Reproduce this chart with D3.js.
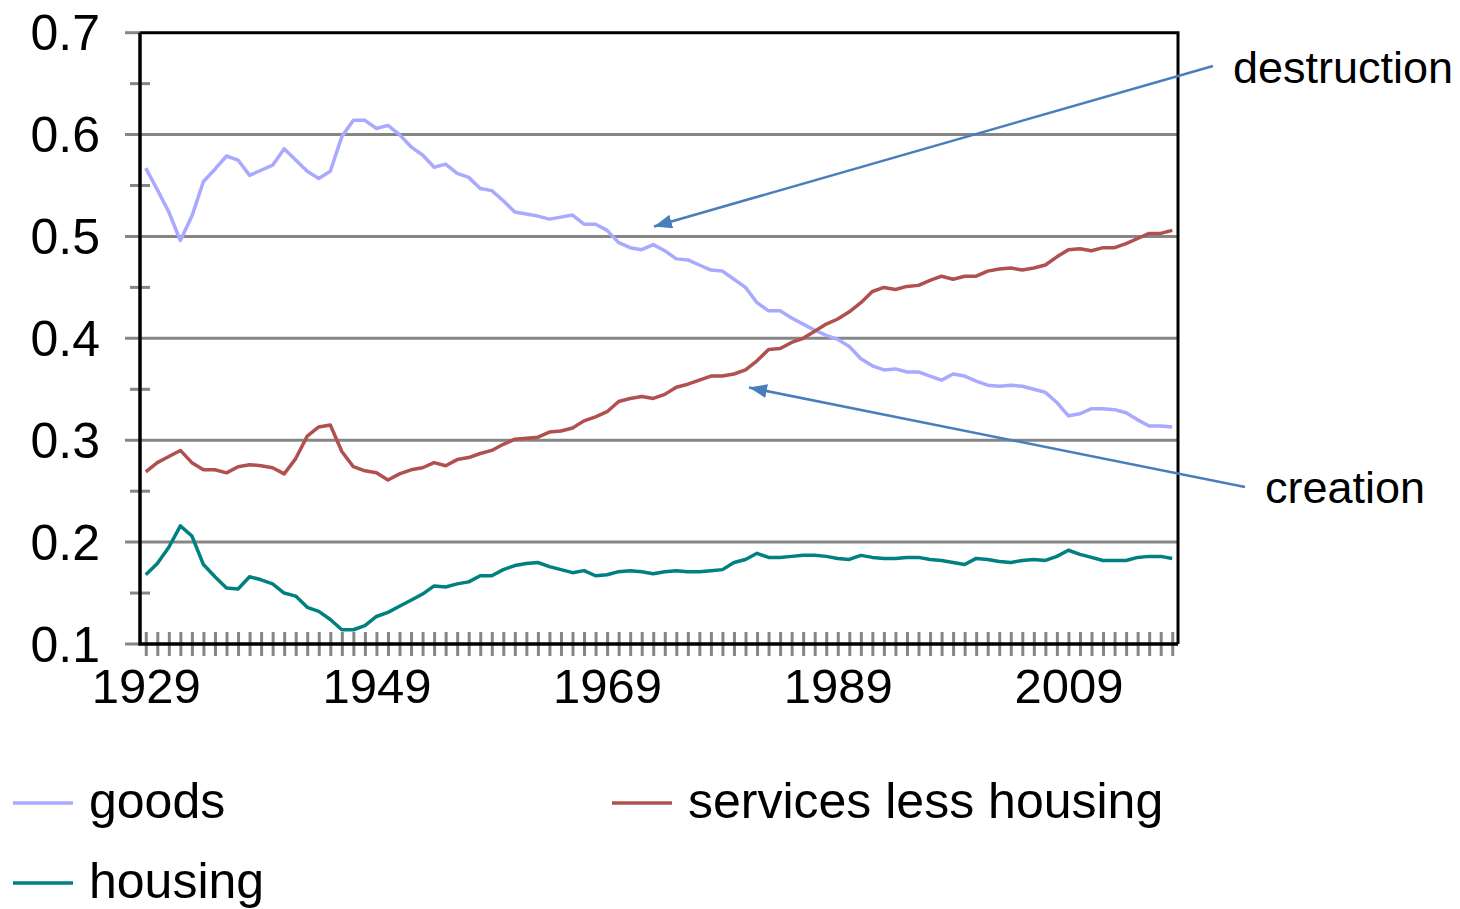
<!DOCTYPE html>
<html><head><meta charset="utf-8">
<script src="https://cdn.jsdelivr.net/npm/d3@7"></script>
<style>
body{margin:0;background:#fff;}
text{font-family:"Liberation Sans",Arial,sans-serif;fill:#000;}
</style></head>
<body>
<svg id="chart" width="1460" height="909"></svg>
<script>
const years = d3.range(1929, 2019);
const goods = [0.567,0.546,0.524,0.496,0.520,0.554,0.566,0.579,0.575,0.560,
0.565,0.570,0.586,0.575,0.564,0.557,0.564,0.598,0.614,0.614,
0.606,0.609,0.600,0.588,0.580,0.568,0.571,0.562,0.558,0.547,
0.545,0.535,0.524,0.522,0.520,0.517,0.519,0.521,0.512,0.512,
0.506,0.494,0.489,0.487,0.492,0.486,0.478,0.477,0.472,0.467,
0.466,0.458,0.450,0.435,0.427,0.427,0.420,0.414,0.408,0.403,
0.399,0.392,0.380,0.373,0.369,0.370,0.367,0.367,0.363,0.359,
0.365,0.363,0.358,0.354,0.353,0.354,0.353,0.350,0.347,0.337,
0.324,0.326,0.331,0.331,0.330,0.327,0.320,0.314,0.314,0.313];
const services = [0.269,0.278,0.284,0.290,0.278,0.271,0.271,0.268,0.274,0.276,
0.275,0.273,0.267,0.282,0.304,0.313,0.315,0.289,0.274,0.270,
0.268,0.261,0.267,0.271,0.273,0.278,0.275,0.281,0.283,0.287,
0.290,0.296,0.301,0.302,0.303,0.308,0.309,0.312,0.319,0.323,
0.328,0.338,0.341,0.343,0.341,0.345,0.352,0.355,0.359,0.363,
0.363,0.365,0.369,0.378,0.389,0.390,0.396,0.400,0.407,0.414,
0.419,0.426,0.435,0.446,0.450,0.448,0.451,0.452,0.457,0.461,
0.458,0.461,0.461,0.466,0.468,0.469,0.467,0.469,0.472,0.480,
0.487,0.488,0.486,0.489,0.489,0.493,0.498,0.503,0.503,0.506];
const housing = [0.168,0.179,0.195,0.216,0.206,0.178,0.166,0.155,0.154,0.166,
0.163,0.159,0.150,0.147,0.136,0.132,0.124,0.114,0.114,0.118,
0.127,0.131,0.137,0.143,0.149,0.157,0.156,0.159,0.161,0.167,
0.167,0.173,0.177,0.179,0.180,0.176,0.173,0.170,0.172,0.167,
0.168,0.171,0.172,0.171,0.169,0.171,0.172,0.171,0.171,0.172,
0.173,0.180,0.183,0.189,0.185,0.185,0.186,0.187,0.187,0.186,
0.184,0.183,0.187,0.185,0.184,0.184,0.185,0.185,0.183,0.182,
0.180,0.178,0.184,0.183,0.181,0.180,0.182,0.183,0.182,0.186,
0.192,0.188,0.185,0.182,0.182,0.182,0.185,0.186,0.186,0.184];
const yTicks = [0.1,0.2,0.3,0.4,0.5,0.6,0.7];
const yMinorTicks = [0.15,0.25,0.35,0.45,0.55,0.65];
const xLabelYears = [1929,1949,1969,1989,2009];
const seriesNames = ["goods","services less housing","housing"];
const seriesColors = ["#A9A9FF","#B0504F","#008080"];

const svg = d3.select("#chart");
const L=140, R=1178, T=32.7, B=644;
const x = d3.scalePoint().domain(years).range([L,R]).padding(0.5);
const y = d3.scaleLinear().domain([0.1,0.7]).range([B,T]);

// gridlines
svg.append("g").selectAll("line").data(yTicks).join("line")
  .attr("x1",125).attr("x2",d=> (d===0.1||d===0.7)? L : R)
  .attr("y1",d=>y(d)).attr("y2",d=>y(d))
  .attr("stroke","#868686").attr("stroke-width",3);
// minor ticks
svg.append("g").selectAll("line").data(yMinorTicks).join("line")
  .attr("x1",130).attr("x2",150).attr("y1",d=>y(d)).attr("y2",d=>y(d))
  .attr("stroke","#868686").attr("stroke-width",3);

// x axis
const xAxis = d3.axisBottom(x).tickValues(years)
  .tickFormat(d=> xLabelYears.includes(d)? String(d):"").tickSizeOuter(0).tickPadding(0);
const gx = svg.append("g").attr("transform",`translate(0,${B})`).call(xAxis);
gx.select(".domain").remove();
gx.selectAll(".tick line").attr("y1",-12).attr("y2",12).attr("stroke","#868686").attr("stroke-width",3);
gx.selectAll(".tick text").attr("y",59).attr("dy",0).style("font-size","49px");

// y axis labels
const yAxis = d3.axisLeft(y).tickValues(yTicks).tickFormat(d3.format(".1f")).tickSize(0).tickPadding(40);
const gy = svg.append("g").attr("transform",`translate(${L},0)`).call(yAxis);
gy.select(".domain").remove();
gy.selectAll(".tick text").attr("dy","0.34em").style("font-size","50px");

// plot frame
svg.append("path").attr("d",`M${L},${T}H${R}V${B}`).attr("fill","none").attr("stroke","#000").attr("stroke-width",3);
svg.append("path").attr("d",`M${L},${T}V${B}H${R}`).attr("fill","none").attr("stroke","#000").attr("stroke-width",3.5);

// lines
const allSeries = [goods, services, housing];
const line = d3.line().x((d,i)=>x(years[i])).y(d=>y(d));
allSeries.forEach((s,k)=>{
  svg.append("path").datum(s).attr("d",line).attr("fill","none")
    .attr("stroke",seriesColors[k]).attr("stroke-width",3.5).attr("stroke-linejoin","round");
});

// arrows
const defs = svg.append("defs");
defs.append("marker").attr("id","arr").attr("viewBox","0 0 18 14").attr("refX",18).attr("refY",7)
  .attr("markerWidth",18).attr("markerHeight",14).attr("markerUnits","userSpaceOnUse").attr("orient","auto")
  .append("path").attr("d","M0,0L18,7L0,14Z").attr("fill","#4A7EBB");
const arrows = [[1213,66,654,226.5],[1245,487,749,387.5]];
svg.append("g").selectAll("line").data(arrows).join("line")
  .attr("x1",d=>d[0]).attr("y1",d=>d[1]).attr("x2",d=>d[2]).attr("y2",d=>d[3])
  .attr("stroke","#4A7EBB").attr("stroke-width",2.5).attr("marker-end","url(#arr)");
svg.append("text").attr("x",1233).attr("y",83).style("font-size","45px").text("destruction");
svg.append("text").attr("x",1265).attr("y",503).style("font-size","45px").text("creation");

// legend
const legendPos = [[13,803],[612,803],[13,883]];
seriesNames.forEach((n,k)=>{
  const [lx,ly]=legendPos[k];
  svg.append("line").attr("x1",lx).attr("x2",lx+60).attr("y1",ly).attr("y2",ly)
    .attr("stroke",seriesColors[k]).attr("stroke-width",3.5);
  svg.append("text").attr("x",lx+76).attr("y",ly+15).style("font-size","50px").text(n);
});
</script>
</body></html>
